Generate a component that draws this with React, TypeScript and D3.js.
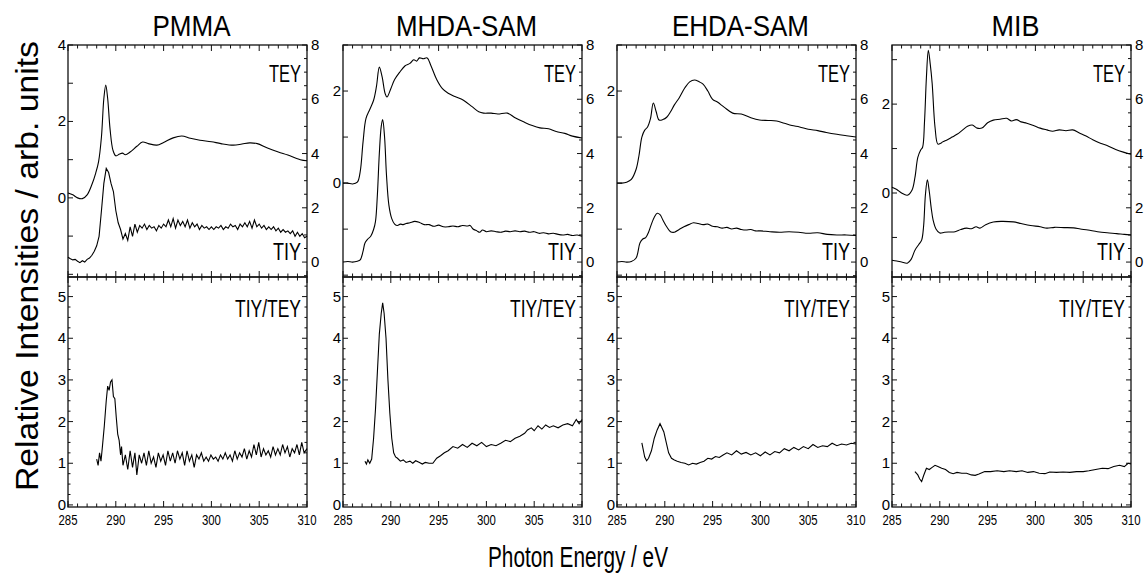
import React from "react";
import * as d3 from "d3";

type Pt = [number, number];

const SAMPLES = ["PMMA", "MHDA-SAM", "EHDA-SAM", "MIB"];
const ENERGY_TICKS = [285, 290, 295, 300, 305, 310];
const RIGHT_TICK_LABELS = [0, 2, 4, 6, 8];
const RATIO_TICK_LABELS = [0, 1, 2, 3, 4, 5];
const LEFT_TICK_LABELS = [[0, 2, 4], [0, 2], [2], [0, 2]];
const LEFT_DOMAINS: [number, number][] = [[-2.07, 4], [-2.04, 3], [-2.04, 3], [-1.89, 3.33]];
const RIGHT_DOMAIN: [number, number] = [-0.55, 8];
const RATIO_DOMAIN: [number, number] = [-0.05, 5.47];

// ---------- PMMA ----------
const pmmaTEY: Pt[] = [[285,0.13],[285.5,0.08],[286,0.0],[286.5,-0.02],[287,0.08],[287.5,0.35],[287.9,0.65],[288.2,0.95],[288.5,1.6],[288.75,2.6],[288.95,2.95],[289.15,2.6],[289.4,1.8],[289.7,1.25],[290.0,1.1],[290.4,1.15],[290.7,1.17],[291.0,1.13],[291.5,1.2],[292.2,1.35],[292.8,1.46],[293.4,1.42],[294.3,1.38],[295.0,1.45],[296.0,1.57],[296.9,1.62],[297.8,1.56],[298.8,1.51],[300,1.47],[301,1.42],[302.3,1.38],[303.2,1.41],[304,1.44],[304.8,1.42],[305.8,1.31],[307,1.2],[308,1.12],[309.3,1.0],[310,0.97]];
const pmmaTIY: Pt[] = [[285,0.18],[285.25,0.12],[285.5,0.08],[285.75,0.1],[286,0.03],[286.25,-0.02],[286.5,0.05],[286.75,0.0],[287,0.1],[287.25,0.15],[287.5,0.25],[287.75,0.4],[288,0.6],[288.25,0.95],[288.5,1.9],[288.75,2.9],[289,3.45],[289.25,3.3],[289.5,2.9],[289.75,2.6],[290,1.9],[290.25,1.45],[290.5,1.2],[290.75,0.85],[291,1.05],[291.25,0.8],[291.5,1.3],[291.75,0.95],[292,1.4],[292.25,1.1],[292.5,1.35],[292.75,1.25],[293,1.4],[293.25,1.2],[293.5,1.35],[293.75,1.25],[294,1.3],[294.25,1.15],[294.5,1.35],[294.75,1.25],[295,1.4],[295.25,1.3],[295.5,1.55],[295.75,1.3],[296,1.6],[296.25,1.25],[296.5,1.55],[296.75,1.35],[297,1.5],[297.25,1.3],[297.5,1.55],[297.75,1.25],[298,1.45],[298.25,1.3],[298.5,1.4],[298.75,1.2],[299,1.35],[299.25,1.25],[299.5,1.3],[299.75,1.2],[300,1.3],[300.25,1.2],[300.5,1.3],[300.75,1.25],[301,1.35],[301.25,1.2],[301.5,1.3],[301.75,1.25],[302,1.4],[302.25,1.3],[302.5,1.35],[302.75,1.2],[303,1.4],[303.25,1.3],[303.5,1.45],[303.75,1.3],[304,1.5],[304.25,1.25],[304.5,1.55],[304.75,1.3],[305,1.4],[305.25,1.25],[305.5,1.35],[305.75,1.2],[306,1.3],[306.25,1.2],[306.5,1.3],[306.75,1.15],[307,1.25],[307.25,1.1],[307.5,1.2],[307.75,1.1],[308,1.15],[308.25,1.05],[308.5,1.15],[308.75,0.95],[309,1.1],[309.25,0.95],[309.5,1.05],[309.75,0.9],[310,0.95]];
const pmmaRatio: Pt[] = [[288.0,1.1],[288.15,0.95],[288.3,1.25],[288.45,1.05],[288.6,1.4],[288.8,1.9],[289.0,2.5],[289.15,2.85],[289.3,2.75],[289.45,2.95],[289.6,3.0],[289.75,2.6],[289.9,2.55],[290.05,2.1],[290.2,1.7],[290.35,1.55],[290.5,1.2],[290.6,1.4],[290.75,0.95],[291,1.2],[291.25,0.85],[291.5,1.3],[291.75,0.9],[292,1.25],[292.2,0.72],[292.45,1.2],[292.7,1.0],[292.95,1.25],[293.2,0.95],[293.45,1.3],[293.7,1.0],[293.95,1.15],[294.2,0.9],[294.45,1.25],[294.7,1.05],[294.95,1.2],[295.2,0.95],[295.45,1.3],[295.7,1.05],[295.95,1.25],[296.2,1.0],[296.45,1.3],[296.7,1.1],[296.95,1.25],[297.2,0.95],[297.45,1.3],[297.7,1.05],[297.95,1.2],[298.2,0.9],[298.45,1.2],[298.7,1.1],[298.95,1.25],[299.2,1.05],[299.45,1.15],[299.7,1.05],[299.95,1.2],[300.2,1.1],[300.45,1.15],[300.7,1.05],[300.95,1.2],[301.2,1.1],[301.45,1.25],[301.7,1.1],[301.95,1.2],[302.2,1.05],[302.45,1.3],[302.7,1.1],[302.95,1.25],[303.2,1.15],[303.45,1.35],[303.7,1.1],[303.95,1.3],[304.2,1.15],[304.45,1.45],[304.7,1.2],[304.95,1.5],[305.2,1.15],[305.45,1.35],[305.7,1.2],[305.95,1.3],[306.2,1.15],[306.45,1.4],[306.7,1.2],[306.95,1.35],[307.2,1.2],[307.45,1.45],[307.7,1.25],[307.95,1.4],[308.2,1.15],[308.45,1.35],[308.7,1.25],[308.95,1.45],[309.2,1.2],[309.45,1.5],[309.7,1.25],[310,1.35]];

// ---------- MHDA-SAM ----------
const mhdaTEY: Pt[] = [[285,0.0],[285.5,0.0],[286,-0.02],[286.5,0.02],[286.8,0.25],[287.1,0.9],[287.4,1.4],[287.8,1.6],[288.2,1.8],[288.5,2.1],[288.8,2.52],[289.1,2.3],[289.4,1.95],[289.6,1.87],[290,2.05],[290.4,2.25],[290.9,2.4],[291.5,2.55],[292,2.6],[292.4,2.68],[292.7,2.65],[293,2.72],[293.4,2.7],[293.8,2.72],[294.2,2.55],[294.8,2.25],[295.4,2.05],[296,1.95],[296.7,1.88],[297.6,1.8],[298.5,1.66],[299.2,1.55],[299.7,1.52],[300.5,1.52],[301.2,1.5],[302.2,1.52],[303,1.42],[304,1.32],[304.8,1.25],[305.6,1.2],[306.5,1.18],[307.3,1.12],[308.2,1.08],[309,1.02],[310,0.98]];
const mhdaTIY: Pt[] = [[285,0.0],[285.5,0.02],[286,0.0],[286.5,0.03],[286.8,0.08],[287.1,0.4],[287.3,0.7],[287.6,0.85],[287.9,0.95],[288.2,1.2],[288.4,1.5],[288.6,2.5],[288.8,4.0],[289.0,5.0],[289.15,5.25],[289.35,4.6],[289.55,3.2],[289.8,2.1],[290.1,1.6],[290.4,1.4],[290.7,1.35],[291,1.4],[291.3,1.38],[291.6,1.42],[292,1.45],[292.5,1.5],[293,1.46],[293.5,1.38],[294,1.38],[294.5,1.32],[295,1.36],[295.5,1.3],[296,1.3],[296.5,1.33],[297,1.3],[297.5,1.35],[298,1.33],[298.3,1.35],[298.6,1.22],[299,1.15],[299.3,1.1],[299.6,1.18],[300,1.12],[300.5,1.15],[301,1.12],[301.5,1.1],[302,1.14],[302.5,1.12],[303,1.15],[303.5,1.12],[304,1.14],[304.5,1.1],[305,1.12],[305.5,1.06],[306,1.08],[306.5,1.04],[307,1.06],[307.5,1.02],[308,1.0],[308.5,1.02],[309,0.98],[309.5,1.0],[310,0.95]];
const mhdaRatio: Pt[] = [[287.3,1.05],[287.45,0.98],[287.6,1.08],[287.8,1.0],[288.0,1.1],[288.2,1.6],[288.4,2.3],[288.6,3.2],[288.8,4.1],[289.0,4.6],[289.15,4.85],[289.3,4.6],[289.5,4.0],[289.7,3.0],[289.9,2.2],[290.1,1.6],[290.3,1.25],[290.5,1.15],[290.7,1.12],[291,1.05],[291.3,1.08],[291.6,1.02],[292,1.05],[292.3,1.0],[292.6,1.06],[293,1.02],[293.3,0.98],[293.6,1.02],[294,1.0],[294.4,1.0],[294.8,1.12],[295.2,1.18],[295.6,1.25],[296,1.3],[296.5,1.4],[297,1.36],[297.5,1.45],[298,1.38],[298.5,1.48],[299,1.42],[299.5,1.5],[300,1.4],[300.5,1.45],[301,1.42],[301.5,1.48],[302,1.55],[302.5,1.52],[303,1.6],[303.5,1.65],[304,1.72],[304.3,1.8],[304.7,1.85],[305,1.78],[305.4,1.9],[305.8,1.82],[306.2,1.92],[306.6,1.86],[307,1.9],[307.5,1.85],[308,1.92],[308.5,1.95],[309,1.9],[309.4,2.05],[309.7,1.95],[310,2.05]];

// ---------- EHDA-SAM ----------
const ehdaTEY: Pt[] = [[285,0.0],[285.5,0.0],[286,0.02],[286.5,0.08],[287,0.3],[287.3,0.6],[287.6,1.0],[287.9,1.15],[288.2,1.22],[288.5,1.4],[288.8,1.74],[289.1,1.55],[289.4,1.37],[289.8,1.38],[290.2,1.43],[290.6,1.55],[291.0,1.7],[291.5,1.85],[292.1,2.07],[292.6,2.2],[293.1,2.24],[293.6,2.2],[294.0,2.15],[294.5,2.0],[295.0,1.82],[295.5,1.76],[296.2,1.65],[297.1,1.52],[298,1.5],[299,1.42],[299.9,1.37],[300.8,1.36],[301.7,1.35],[302.5,1.3],[303.3,1.25],[304.1,1.22],[305,1.17],[306,1.14],[306.9,1.1],[308,1.06],[309,1.03],[310,1.0]];
const ehdaTIY: Pt[] = [[285,0.0],[285.5,0.02],[286,0.0],[286.5,0.02],[287,0.15],[287.4,0.7],[287.7,0.85],[288,0.9],[288.3,1.1],[288.6,1.4],[288.9,1.65],[289.2,1.8],[289.5,1.75],[289.8,1.55],[290.2,1.3],[290.6,1.12],[291,1.1],[291.5,1.2],[292,1.3],[292.5,1.38],[293,1.45],[293.5,1.42],[294,1.38],[294.5,1.4],[295,1.32],[295.5,1.3],[296,1.25],[296.5,1.28],[297,1.22],[297.5,1.25],[298,1.2],[298.5,1.18],[299,1.2],[299.5,1.15],[300,1.15],[301,1.12],[302,1.1],[303,1.12],[304,1.1],[305,1.06],[306,1.08],[307,1.02],[308,1.0],[309,1.0],[310,0.98]];
const ehdaRatio: Pt[] = [[287.6,1.49],[287.9,1.15],[288.1,1.06],[288.3,1.12],[288.6,1.3],[288.9,1.6],[289.2,1.8],[289.5,1.95],[289.7,1.85],[289.9,1.75],[290.1,1.55],[290.4,1.25],[290.7,1.12],[291,1.08],[291.3,1.05],[291.7,1.02],[292.1,1.0],[292.5,0.96],[292.9,1.0],[293.3,0.98],[293.7,1.02],[294.1,1.05],[294.5,1.12],[294.9,1.1],[295.3,1.16],[295.7,1.14],[296.1,1.2],[296.5,1.25],[297,1.2],[297.5,1.3],[298,1.22],[298.5,1.26],[299,1.2],[299.5,1.25],[300,1.18],[300.5,1.27],[301,1.2],[301.5,1.28],[302,1.25],[302.5,1.35],[303,1.3],[303.5,1.38],[304,1.32],[304.5,1.4],[305,1.35],[305.5,1.45],[306,1.38],[306.5,1.42],[307,1.4],[307.5,1.48],[308,1.42],[308.5,1.46],[309,1.44],[309.5,1.48],[310,1.46]];

// ---------- MIB ----------
const mibTEY: Pt[] = [[285,0.13],[285.5,0.08],[286,0.0],[286.6,-0.05],[287.1,0.07],[287.4,0.35],[287.7,0.8],[288.0,0.97],[288.2,1.03],[288.4,1.6],[288.6,2.6],[288.8,3.21],[289.0,2.9],[289.2,2.47],[289.5,1.48],[289.8,1.1],[290.1,1.12],[290.3,1.15],[290.8,1.2],[291.3,1.26],[291.8,1.32],[292.4,1.42],[292.9,1.5],[293.4,1.53],[293.9,1.46],[294.4,1.46],[295,1.58],[295.6,1.64],[296.3,1.66],[297,1.68],[297.5,1.62],[298,1.65],[298.5,1.6],[299.1,1.57],[299.8,1.52],[300.5,1.46],[301.2,1.42],[301.8,1.39],[302.5,1.42],[303.2,1.4],[303.9,1.42],[304.6,1.35],[305.3,1.28],[306,1.2],[306.8,1.12],[307.6,1.06],[308.4,0.98],[309.2,0.92],[310,0.87]];
const mibTIY: Pt[] = [[285,0.07],[285.5,0.04],[286,0.0],[286.6,-0.04],[287,0.1],[287.4,0.44],[287.8,0.65],[288.1,0.81],[288.3,1.3],[288.5,2.5],[288.7,3.03],[288.9,2.6],[289.1,2.0],[289.3,1.55],[289.6,1.22],[290,1.07],[290.5,1.1],[291.1,1.11],[291.6,1.12],[292.2,1.2],[292.8,1.25],[293.3,1.23],[293.8,1.3],[294.2,1.25],[294.8,1.38],[295.6,1.48],[296.5,1.5],[297.7,1.48],[298.5,1.42],[299.5,1.35],[300.5,1.3],[301.2,1.25],[302,1.28],[303,1.27],[304,1.26],[304.7,1.22],[305.5,1.18],[306.5,1.12],[307.5,1.08],[308.5,1.05],[309.3,1.02],[310,1.0]];
const mibRatio: Pt[] = [[287.4,0.8],[287.7,0.72],[287.9,0.62],[288.1,0.56],[288.3,0.7],[288.6,0.88],[288.9,0.85],[289.2,0.9],[289.5,0.95],[289.8,0.92],[290.2,0.88],[290.6,0.85],[291.0,0.78],[291.4,0.75],[291.8,0.78],[292.3,0.76],[292.8,0.76],[293.3,0.72],[293.7,0.71],[294.1,0.74],[294.7,0.8],[295.3,0.8],[296,0.82],[296.7,0.8],[297.3,0.82],[298,0.8],[298.6,0.82],[299.2,0.78],[299.8,0.8],[300.4,0.76],[301,0.75],[301.5,0.79],[302.2,0.78],[302.9,0.79],[303.6,0.78],[304.3,0.8],[305,0.8],[305.6,0.82],[306.3,0.85],[307,0.88],[307.6,0.87],[308.2,0.92],[308.8,0.95],[309.3,0.92],[309.7,1.0],[310,0.98]];

const TEY_SERIES = [pmmaTEY, mhdaTEY, ehdaTEY, mibTEY];
const TIY_SERIES = [pmmaTIY, mhdaTIY, ehdaTIY, mibTIY];
const RATIO_SERIES = [pmmaRatio, mhdaRatio, ehdaRatio, mibRatio];

const FONT = "'Liberation Sans', Arial, Helvetica, sans-serif";
const COL_LEFT = [68, 343, 617, 892];
const W = 239;
const TOP = 45, MID = 277, BOT = 507;
const TITLE_W = [78, 141, 137, 48];

function Column({ c }: { c: number }) {
  const left = COL_LEFT[c];
  const right = left + W;
  const x = d3.scaleLinear().domain([285, 310]).range([left, right]);
  const yL = d3.scaleLinear().domain(LEFT_DOMAINS[c]).range([MID, TOP]);
  const yR = d3.scaleLinear().domain(RIGHT_DOMAIN).range([MID, TOP]);
  const yB = d3.scaleLinear().domain(RATIO_DOMAIN).range([BOT, MID]);

  const smooth = d3.curveCatmullRom.alpha(0.5);
  const teyLine = d3.line<Pt>().x(d => x(d[0])).y(d => yL(d[1])).curve(smooth);
  const tiyLine = d3.line<Pt>().x(d => x(d[0])).y(d => yR(d[1])).curve(c === 0 ? d3.curveLinear : smooth);
  const ratioLine = d3.line<Pt>().x(d => x(d[0])).y(d => yB(d[1])).curve(d3.curveLinear);

  const eTicks = d3.range(285, 311, 1);
  const [l0, l1] = LEFT_DOMAINS[c];
  const leftTicks = d3.range(Math.ceil(l0), Math.floor(l1) + 1, 1);
  const rightTicks = d3.range(-0.5, 8.01, 0.5);
  const ratioTicks = d3.range(0, 5.45, 0.25);
  const ink = "#111";

  return (
    <g>
      {/* title */}
      <text x={(left + right) / 2 + 4} y={36} textAnchor="middle" fontSize={29} fontFamily={FONT}
        textLength={TITLE_W[c]} lengthAdjust="spacingAndGlyphs">{SAMPLES[c]}</text>

      {/* frames */}
      <rect x={left} y={TOP} width={W} height={MID - TOP} fill="none" stroke={ink} strokeWidth={1.3} />
      <rect x={left} y={MID} width={W} height={BOT - MID} fill="none" stroke={ink} strokeWidth={1.3} />

      {/* energy ticks */}
      {eTicks.map(e => {
        const major = e % 5 === 0;
        const len = major ? 6 : 3.5;
        const xx = x(e);
        return (
          <g key={"e" + e} stroke={ink} strokeWidth={1}>
            <line x1={xx} x2={xx} y1={TOP} y2={TOP + len} />
            <line x1={xx} x2={xx} y1={MID} y2={MID - len} />
            <line x1={xx} x2={xx} y1={MID} y2={MID + len} />
            <line x1={xx} x2={xx} y1={BOT} y2={BOT - len} />
          </g>
        );
      })}
      {ENERGY_TICKS.map(e => (
        <text key={"el" + e} x={x(e)} y={525} textAnchor="middle" fontSize={15} fontFamily={FONT}
          textLength={19} lengthAdjust="spacingAndGlyphs">{e}</text>
      ))}

      {/* left axis top panel */}
      {leftTicks.map(v => (
        <line key={"lt" + v} x1={left} x2={left + 5} y1={yL(v)} y2={yL(v)} stroke={ink} strokeWidth={1} />
      ))}
      {LEFT_TICK_LABELS[c].map(v => (
        <text key={"ll" + v} x={left - 2} y={yL(v) + 5} textAnchor="end" fontSize={15} fontFamily={FONT}>{v}</text>
      ))}

      {/* right axis top panel */}
      {rightTicks.map(v => {
        const major = Math.abs(v % 2) < 1e-6;
        return <line key={"rt" + v} x1={right} x2={right - (major ? 5 : 3)} y1={yR(v)} y2={yR(v)} stroke={ink} strokeWidth={1} />;
      })}
      {RIGHT_TICK_LABELS.map(v => (
        <text key={"rl" + v} x={right + 4} y={yR(v) + 5} textAnchor="start" fontSize={15} fontFamily={FONT}>{v}</text>
      ))}

      {/* ratio axes */}
      {ratioTicks.map(v => {
        const major = Math.abs(v - Math.round(v)) < 1e-6;
        const len = major ? 5 : 2.5;
        return (
          <g key={"bt" + v} stroke={ink} strokeWidth={1}>
            <line x1={left} x2={left + len} y1={yB(v)} y2={yB(v)} />
            <line x1={right} x2={right - len} y1={yB(v)} y2={yB(v)} />
          </g>
        );
      })}
      {RATIO_TICK_LABELS.map(v => (
        <text key={"bl" + v} x={left - 2} y={yB(v) + 5} textAnchor="end" fontSize={15} fontFamily={FONT}>{v}</text>
      ))}

      {/* data */}
      <path d={teyLine(TEY_SERIES[c]) || ""} fill="none" stroke="#000" strokeWidth={1.1} />
      <path d={tiyLine(TIY_SERIES[c]) || ""} fill="none" stroke="#000" strokeWidth={1.1} />
      <path d={ratioLine(RATIO_SERIES[c]) || ""} fill="none" stroke="#000" strokeWidth={1.1} />

      {/* panel labels */}
      <text x={right - 6} y={82} textAnchor="end" fontSize={23} fontFamily={FONT}
        textLength={32} lengthAdjust="spacingAndGlyphs">TEY</text>
      <text x={right - 6} y={260} textAnchor="end" fontSize={23} fontFamily={FONT}
        textLength={28} lengthAdjust="spacingAndGlyphs">TIY</text>
      <text x={right - 6} y={317} textAnchor="end" fontSize={23} fontFamily={FONT}
        textLength={66} lengthAdjust="spacingAndGlyphs">TIY/TEY</text>
    </g>
  );
}

export default function App() {
  return (
    <svg width={1147} height={577} viewBox="0 0 1147 577"
      style={{ position: "absolute", left: 0, top: 0, background: "#fff" }}>
      <rect x={0} y={0} width={1147} height={577} fill="#fff" />
      {SAMPLES.map((_, c) => <Column key={c} c={c} />)}
      <text transform="translate(38,266) rotate(-90)" textAnchor="middle" fontSize={31} fontFamily={FONT}
        textLength={450} lengthAdjust="spacingAndGlyphs">Relative Intensities  / arb. units</text>
      <text x={578} y={567} textAnchor="middle" fontSize={29} fontFamily={FONT}
        textLength={180} lengthAdjust="spacingAndGlyphs">Photon Energy / eV</text>
    </svg>
  );
}
